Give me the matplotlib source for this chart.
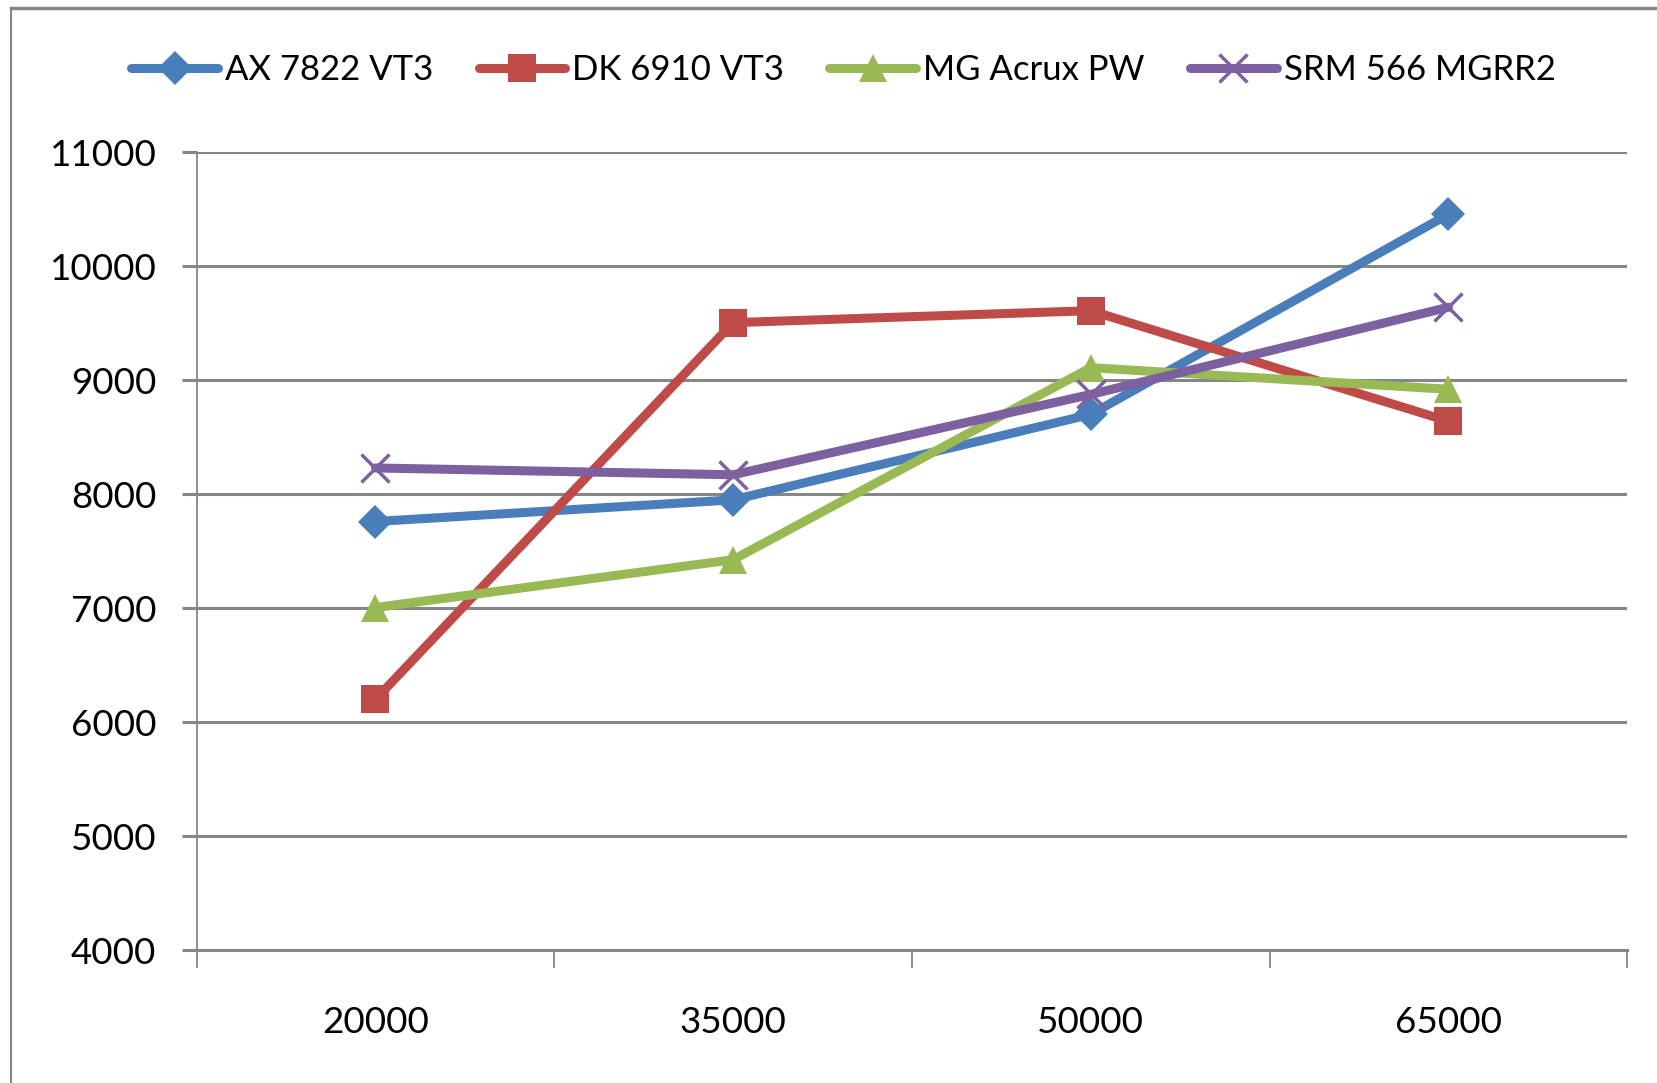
import matplotlib
matplotlib.use("Agg")
import matplotlib.pyplot as plt
from matplotlib.lines import Line2D
import numpy as np

categories = ["20000", "35000", "50000", "65000"]
series_names = ["AX 7822 VT3", "DK 6910 VT3", "MG Acrux PW", "SRM 566 MGRR2"]
ax7822 = [7760, 7950, 8700, 10455]
dk6910 = [6200, 9505, 9610, 8640]
mg_acrux = [7005, 7425, 9110, 8920]
srm566 = [8230, 8170, 8875, 9640]
y_ticks = [4000, 5000, 6000, 7000, 8000, 9000, 10000, 11000]

colors = ["#4A7EBB", "#BE4B48", "#98B954", "#7D60A0"]
markers = ["D", "s", "^", "x"]
msizes = [17, 20, 20, 20]

plt.rcParams['font.family'] = ['Lato', 'DejaVu Sans']

fig = plt.figure(figsize=(16.57, 10.83), dpi=100)
ax = fig.add_axes([0.1187, 0.1228, 0.982 - 0.1187, 0.8594 - 0.1228])

x = np.arange(len(categories))
data = [ax7822, dk6910, mg_acrux, srm566]
handles = []
for vals, c, m, ms, name in zip(data, colors, markers, msizes, series_names):
    kw = dict(color=c, lw=6.5, marker=m, markersize=ms, label=name,
              solid_capstyle='round', solid_joinstyle='round')
    if m == 'x':
        kw.update(markeredgewidth=2.5)
    else:
        kw.update(markeredgewidth=0)
    h, = ax.plot(x, vals, **kw)
    handles.append(h)

ax.set_xlim(-0.5, 3.5)
ax.set_ylim(4000, 11000)
ax.set_yticks(y_ticks)
ax.set_yticklabels([str(v) for v in y_ticks])
ax.yaxis.grid(True, color="#868686", lw=2.2)
ax.set_axisbelow(True)

ax.set_xticks(x)
ax.set_xticklabels(categories)
ax.set_xticks(np.arange(-0.5, 4.0, 1.0), minor=True)
ax.tick_params(axis='x', which='major', length=0, pad=40, labelsize=26.5)
ax.tick_params(axis='x', which='minor', length=13, width=1.3, color="#868686", direction='out')
ax.tick_params(axis='y', length=11, width=2.2, color="#868686", direction='out', pad=18, labelsize=26.5)

for s in ['top', 'right']:
    ax.spines[s].set_visible(False)
ax.spines['left'].set_color("#868686")
ax.spines['left'].set_linewidth(1.3)
ax.spines['bottom'].set_color("#868686")
ax.spines['bottom'].set_linewidth(2.2)

leg = fig.legend(handles=handles, loc='center', bbox_to_anchor=(0.509, 0.935), ncol=4,
                 frameon=False, fontsize=25, handlelength=2.5, handletextpad=0.2,
                 columnspacing=1.3)

# outer chart frame
fig.add_artist(Line2D([10.5 / 1657, 1.0], [1 - 8 / 1083, 1 - 8 / 1083], color="#868686", lw=2.5,
                      transform=fig.transFigure))
fig.add_artist(Line2D([10.5 / 1657, 10.5 / 1657], [0.0, 1 - 8 / 1083], color="#868686", lw=1.5,
                      transform=fig.transFigure))

fig.savefig("out.png", dpi=100)
